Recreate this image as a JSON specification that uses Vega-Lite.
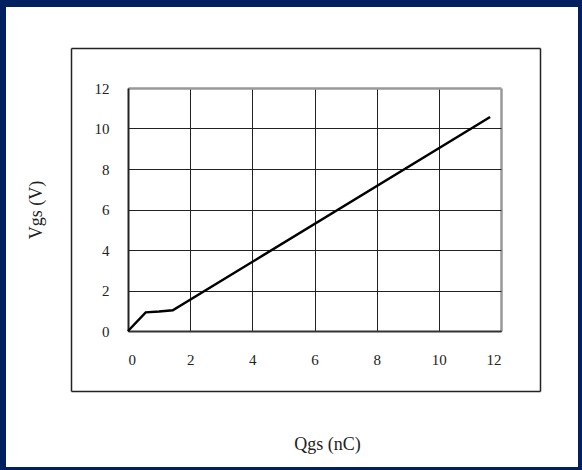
{
  "$schema": "https://vega.github.io/schema/vega-lite/v6.json",
  "width": 572,
  "height": 460,
  "autosize": {"type": "none"},
  "padding": {"left": 6, "top": 7, "right": 4, "bottom": 3},
  "background": "#002060",
  "config": {"view": {"fill": "white", "stroke": null}, "font": "Liberation Serif"},
  "datasets": {
    "curve": [
      {"qgs": 0, "vgs": 0},
      {"qgs": 0.57, "vgs": 0.92},
      {"qgs": 1.0, "vgs": 0.96},
      {"qgs": 1.44, "vgs": 1.02},
      {"qgs": 11.65, "vgs": 10.57}
    ],
    "frame": [{"fx": 0, "fy": 0}, {"fx": 1, "fy": 1}]
  },
  "layer": [
    {
      "data": {"name": "frame"},
      "mark": {"type": "point", "opacity": 0},
      "encoding": {
        "x": {"field": "fx", "type": "quantitative",
          "scale": {"domain": [0, 1], "range": [65, 534], "nice": false, "zero": false},
          "axis": {"orient": "top", "offset": 0, "values": [0, 1], "grid": true, "gridColor": "#222", "gridWidth": 1.5,
            "labels": false, "domain": false, "ticks": false, "title": null}},
        "y": {"field": "fy", "type": "quantitative",
          "scale": {"domain": [0, 1], "range": [384, 41], "nice": false, "zero": false},
          "axis": {"orient": "left", "offset": 0, "values": [0, 1], "grid": true, "gridColor": "#222", "gridWidth": 1.5,
            "labels": false, "domain": false, "ticks": false, "title": null}}
      }
    },
    {
      "data": {"name": "curve"},
      "mark": {"type": "line", "opacity": 0},
      "encoding": {
        "x": {"field": "qgs", "type": "quantitative",
          "scale": {"domain": [0, 12], "range": [122, 495], "nice": false, "zero": false},
          "axis": {"orient": "top", "offset": 0, "values": [0, 2, 4, 6, 8, 10, 12], "grid": true,
            "gridColor": {"condition": {"test": "datum.value === 12", "value": "#999999"}, "value": "#222222"},
            "gridWidth": {"condition": {"test": "datum.value === 12", "value": 2.5}, "value": 1},
            "labels": false, "domain": false, "ticks": false, "title": null}},
        "y": {"field": "vgs", "type": "quantitative",
          "scale": {"domain": [0, 12], "range": [324, 81], "nice": false, "zero": false},
          "axis": null}
      }
    },
    {
      "data": {"name": "curve"},
      "mark": {"type": "line", "color": "black", "strokeWidth": 2.5},
      "encoding": {
        "x": {"field": "qgs", "type": "quantitative",
          "scale": {"domain": [0, 12], "range": [122, 495], "nice": false, "zero": false},
          "axis": {"orient": "bottom", "offset": -136, "values": [0, 2, 4, 6, 8, 10, 12], "grid": false,
            "ticks": false, "tickSize": 0, "domainColor": "#333333", "domainWidth": 2,
            "labelFont": "Liberation Serif", "labelFontSize": 15, "labelColor": "#222222", "labelPadding": 21,
            "title": "Qgs (nC)", "titleFont": "Liberation Serif", "titleFontSize": 18, "titleFontWeight": "normal",
            "titleColor": "#222222", "titleX": 321, "titleY": 113, "titleBaseline": "middle"}},
        "y": {"field": "vgs", "type": "quantitative",
          "scale": {"domain": [0, 12], "range": [324, 81], "nice": false, "zero": false},
          "axis": {"orient": "left", "offset": -122, "values": [0, 2, 4, 6, 8, 10, 12], "grid": true,
            "gridColor": {"condition": {"test": "datum.value === 12", "value": "#999999"}, "value": "#222222"},
            "gridWidth": {"condition": {"test": "datum.value === 12", "value": 2.5}, "value": 1},
            "ticks": false, "tickSize": 0, "domainColor": "#222222", "domainWidth": 2,
            "labelFont": "Liberation Serif", "labelFontSize": 15, "labelColor": "#222222", "labelPadding": 19,
            "title": "Vgs (V)", "titleFont": "Liberation Serif", "titleFontSize": 18, "titleFontWeight": "normal",
            "titleColor": "#222222", "titleX": -92, "titleBaseline": "middle"}}
      }
    }
  ],
  "resolve": {
    "scale": {"x": "independent", "y": "independent"},
    "axis": {"x": "independent", "y": "independent"}
  }
}
